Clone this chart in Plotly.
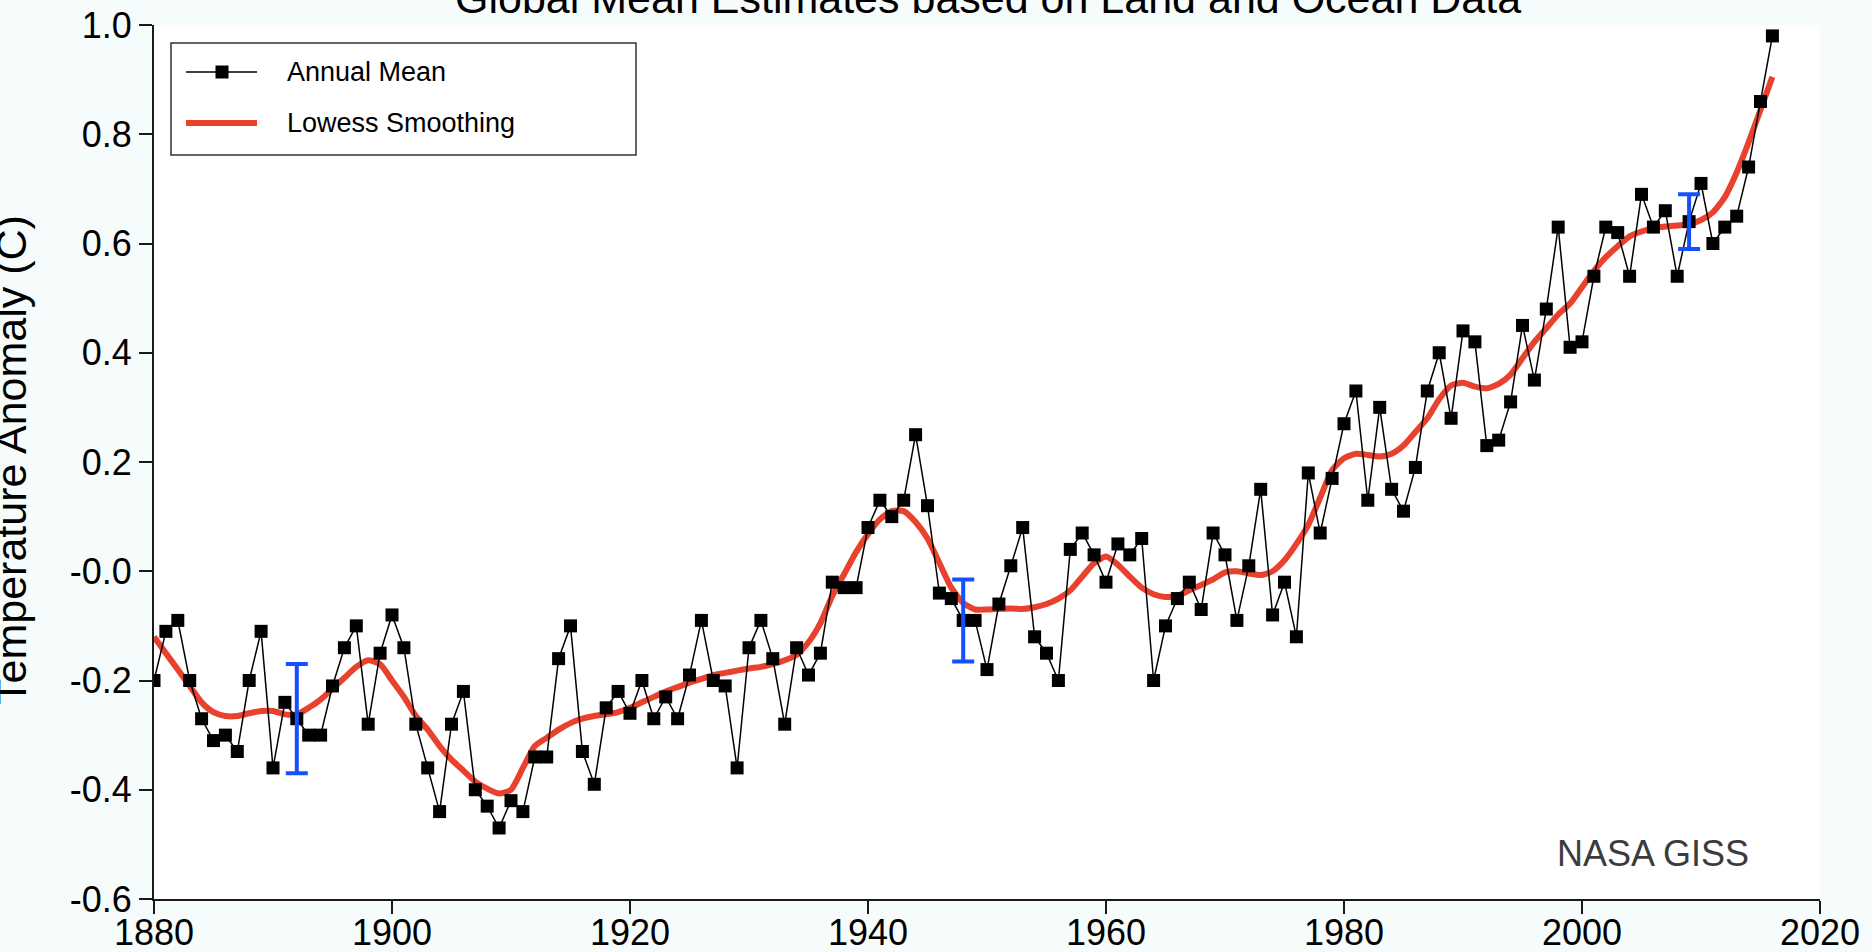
import plotly.graph_objects as go

# Years covered by the record
years = list(range(1880, 2017))

# Annual global mean temperature anomaly (deg C)
annual_mean = [
    -0.20, -0.11, -0.09, -0.20, -0.27, -0.31, -0.30, -0.33, -0.20, -0.11,  # 1880s
    -0.36, -0.24, -0.27, -0.30, -0.30, -0.21, -0.14, -0.10, -0.28, -0.15,  # 1890s
    -0.08, -0.14, -0.28, -0.36, -0.44, -0.28, -0.22, -0.40, -0.43, -0.47,  # 1900s
    -0.42, -0.44, -0.34, -0.34, -0.16, -0.10, -0.33, -0.39, -0.25, -0.22,  # 1910s
    -0.26, -0.20, -0.27, -0.23, -0.27, -0.19, -0.09, -0.20, -0.21, -0.36,  # 1920s
    -0.14, -0.09, -0.16, -0.28, -0.14, -0.19, -0.15, -0.02, -0.03, -0.03,  # 1930s
    0.08, 0.13, 0.10, 0.13, 0.25, 0.12, -0.04, -0.05, -0.09, -0.09,        # 1940s
    -0.18, -0.06, 0.01, 0.08, -0.12, -0.15, -0.20, 0.04, 0.07, 0.03,       # 1950s
    -0.02, 0.05, 0.03, 0.06, -0.20, -0.10, -0.05, -0.02, -0.07, 0.07,      # 1960s
    0.03, -0.09, 0.01, 0.15, -0.08, -0.02, -0.12, 0.18, 0.07, 0.17,        # 1970s
    0.27, 0.33, 0.13, 0.30, 0.15, 0.11, 0.19, 0.33, 0.40, 0.28,            # 1980s
    0.44, 0.42, 0.23, 0.24, 0.31, 0.45, 0.35, 0.48, 0.63, 0.41,            # 1990s
    0.42, 0.54, 0.63, 0.62, 0.54, 0.69, 0.63, 0.66, 0.54, 0.64,            # 2000s
    0.71, 0.60, 0.63, 0.65, 0.74, 0.86, 0.98,                              # 2010s
]

# Lowess-smoothed curve (deg C)
lowess = [
    -0.120, -0.150, -0.180, -0.210, -0.240, -0.258, -0.265, -0.265, -0.260, -0.256,
    -0.256, -0.262, -0.262, -0.250, -0.235, -0.215, -0.195, -0.175, -0.163, -0.170,
    -0.200, -0.230, -0.265, -0.290, -0.320, -0.345, -0.365, -0.385, -0.398, -0.407,
    -0.400, -0.360, -0.320, -0.305, -0.290, -0.278, -0.270, -0.265, -0.262, -0.258,
    -0.250, -0.240, -0.230, -0.220, -0.212, -0.204, -0.197, -0.190, -0.186, -0.182,
    -0.178, -0.175, -0.170, -0.163, -0.153, -0.130, -0.095, -0.045, -0.005, 0.035,
    0.068, 0.095, 0.110, 0.110, 0.090, 0.060, 0.015, -0.030, -0.058, -0.070,
    -0.070, -0.069, -0.068, -0.069, -0.066, -0.060, -0.050, -0.035, -0.010, 0.015,
    0.027, 0.012, -0.010, -0.030, -0.042, -0.047, -0.045, -0.035, -0.025, -0.015,
    -0.002, 0.000, -0.004, -0.007, 0.000, 0.020, 0.050, 0.085, 0.135, 0.185,
    0.207, 0.215, 0.213, 0.210, 0.215, 0.230, 0.255, 0.280, 0.315, 0.340,
    0.345, 0.338, 0.335, 0.343, 0.360, 0.390, 0.420, 0.445, 0.470, 0.490,
    0.520, 0.550, 0.575, 0.595, 0.613, 0.622, 0.628, 0.631, 0.633, 0.635,
    0.643, 0.657, 0.685, 0.730, 0.785, 0.845, 0.905,
]

# Uncertainty estimates shown at three epochs
unc_years = [1892, 1948, 2009]
unc_center = [-0.27, -0.09, 0.64]
unc_halfwidth = [0.10, 0.075, 0.05]

x_ticks = [1880, 1900, 1920, 1940, 1960, 1980, 2000, 2020]
y_ticks = [-0.6, -0.4, -0.2, 0.0, 0.2, 0.4, 0.6, 0.8, 1.0]
y_tick_text = ["-0.6", "-0.4", "-0.2", "-0.0", "0.2", "0.4", "0.6", "0.8", "1.0"]

FONT = "Liberation Sans, Arial, Helvetica, sans-serif"
RED = "#e8412e"
BLUE = "#1450ff"
AXIS = "#1a1a1a"

W, H = 1872, 952
ML, MR, MT, MB = 154, 52, 25, 53
PW, PH = W - ML - MR, H - MT - MB


def px(x):
    return (x - ML) / PW


def py(y):
    return (H - MB - y) / PH


fig = go.Figure()

fig.add_trace(go.Scatter(
    x=years, y=lowess, mode="lines", name="Lowess Smoothing",
    line=dict(color=RED, width=6, shape="spline", smoothing=0.6),
    showlegend=False, hoverinfo="skip",
))

fig.add_trace(go.Scatter(
    x=years, y=annual_mean, mode="lines+markers", name="Annual Mean",
    line=dict(color="black", width=1.5),
    marker=dict(symbol="square", size=13, color="black", line=dict(width=0)),
    showlegend=False,
))

fig.add_trace(go.Scatter(
    x=unc_years, y=unc_center, mode="markers",
    marker=dict(size=1, color="rgba(0,0,0,0)"),
    error_y=dict(type="data", array=unc_halfwidth, visible=True,
                 color=BLUE, thickness=4, width=11),
    showlegend=False, hoverinfo="skip",
))

# Legend box drawn in the upper-left corner of the plot
shapes = [
    dict(type="rect", xref="paper", yref="paper",
         x0=px(171), x1=px(636), y0=py(155), y1=py(43),
         line=dict(color="#333333", width=1.5), fillcolor="white"),
    dict(type="line", xref="paper", yref="paper",
         x0=px(186), x1=px(257), y0=py(72), y1=py(72),
         line=dict(color="black", width=1.5)),
    dict(type="rect", xref="paper", yref="paper",
         x0=px(222 - 6.5), x1=px(222 + 6.5), y0=py(72 + 6.5), y1=py(72 - 6.5),
         line=dict(width=0), fillcolor="black"),
    dict(type="line", xref="paper", yref="paper",
         x0=px(186), x1=px(257), y0=py(123), y1=py(123),
         line=dict(color=RED, width=6)),
]

annotations = [
    dict(text="Annual Mean", xref="paper", yref="paper", x=px(285), y=py(72),
         xanchor="left", yanchor="middle", showarrow=False,
         font=dict(family=FONT, size=27, color="black")),
    dict(text="Lowess Smoothing", xref="paper", yref="paper", x=px(285), y=py(123),
         xanchor="left", yanchor="middle", showarrow=False,
         font=dict(family=FONT, size=27, color="black")),
    dict(text="Global Mean Estimates based on Land and Ocean Data",
         xref="paper", yref="paper", x=px(988), y=py(-2),
         xanchor="center", yanchor="middle", showarrow=False,
         font=dict(family=FONT, size=43, color="black")),
    dict(text="Temperature Anomaly (C)", xref="paper", yref="paper",
         x=px(11), y=py(460), textangle=-90,
         xanchor="center", yanchor="middle", showarrow=False,
         font=dict(family=FONT, size=43, color="black")),
    dict(text="NASA GISS", xref="paper", yref="paper", x=px(1653), y=py(853),
         xanchor="center", yanchor="middle", showarrow=False,
         font=dict(family=FONT, size=36, color="#3c3c3c")),
]

fig.update_layout(
    width=W, height=H, autosize=False,
    margin=dict(l=ML, r=MR, t=MT, b=MB, pad=0, autoexpand=False),
    paper_bgcolor="#f6fcfc", plot_bgcolor="white",
    font=dict(family=FONT, color="black"),
    shapes=shapes, annotations=annotations,
    showlegend=False,
    xaxis=dict(
        range=[1880, 2020], tickvals=x_ticks, automargin=False,
        showline=True, linecolor=AXIS, linewidth=2,
        ticks="outside", ticklen=13, tickwidth=2, tickcolor=AXIS,
        ticklabelstandoff=-12,
        tickfont=dict(family=FONT, size=36, color="black"),
        showgrid=False, zeroline=False,
    ),
    yaxis=dict(
        range=[-0.6, 1.0], tickvals=y_ticks, ticktext=y_tick_text,
        automargin=False,
        showline=True, linecolor=AXIS, linewidth=2,
        ticks="outside", ticklen=13, tickwidth=2, tickcolor=AXIS,
        tickfont=dict(family=FONT, size=36, color="black"),
        showgrid=False, zeroline=False,
    ),
)

fig.write_html("out.html")
